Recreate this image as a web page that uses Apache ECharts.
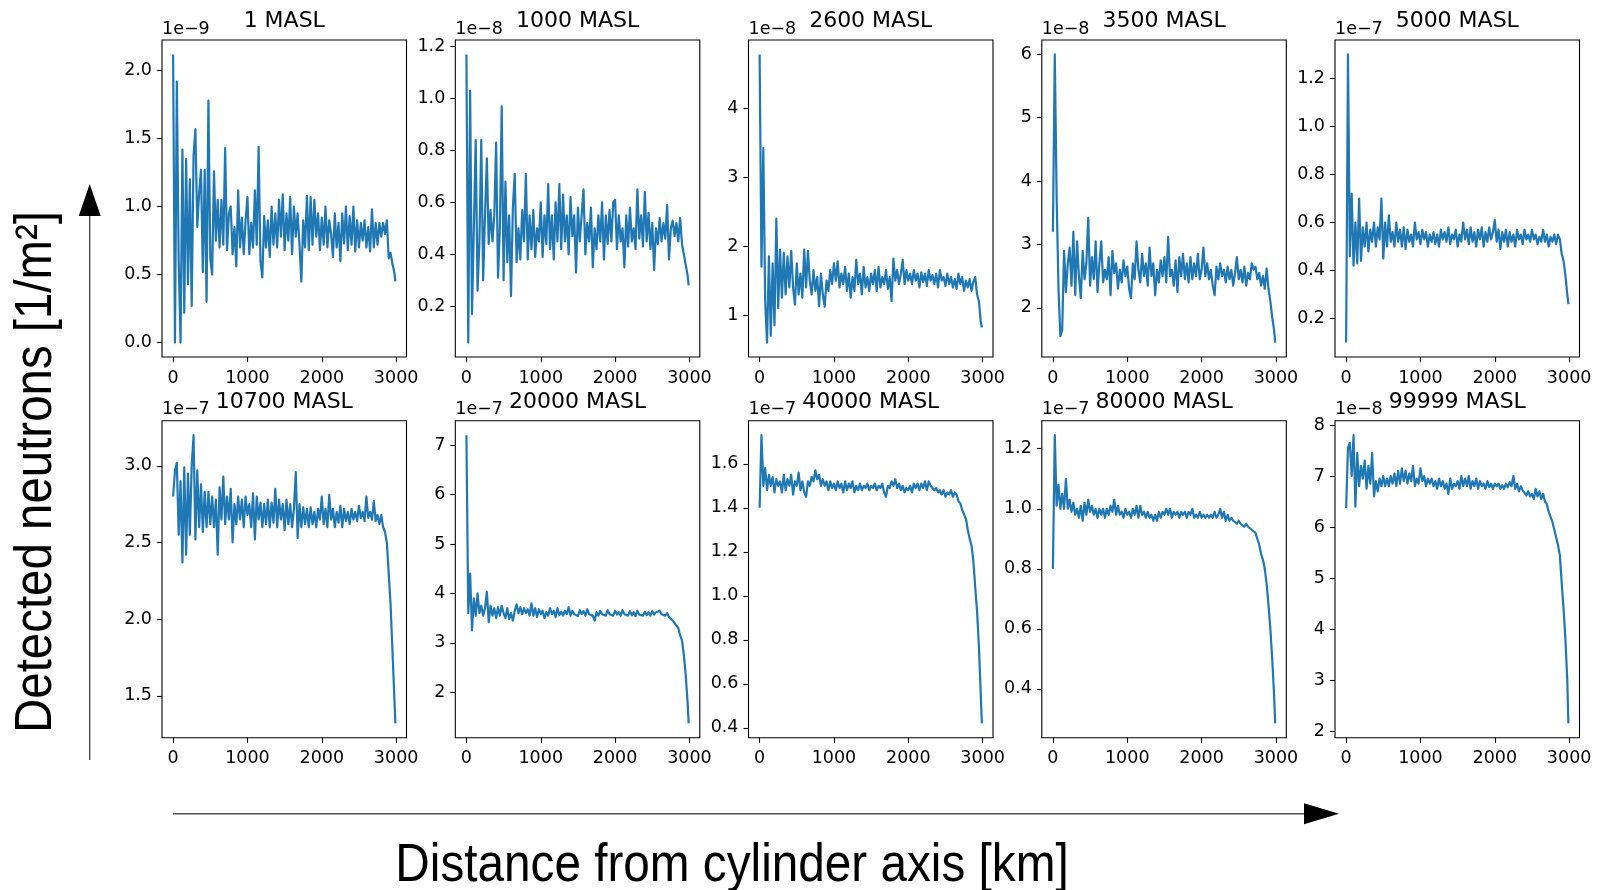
<!DOCTYPE html>
<html><head><meta charset="utf-8">
<script src="https://cdn.jsdelivr.net/npm/echarts@6/dist/echarts.min.js"></script>
<style>html,body{margin:0;padding:0;background:#fff}#c{width:1599px;height:890px}</style>
</head><body><div id="c"></div>
<script>
// ---------------- DATA ----------------
const distanceKm = [
 0,25,50,75,100,125,150,175,200,225,
 250,275,300,325,350,375,400,425,450,475,
 500,525,550,575,600,625,650,675,700,725,
 750,775,800,825,850,875,900,925,950,975,
 1000,1025,1050,1075,1100,1125,1150,1175,1200,1225,
 1250,1275,1300,1325,1350,1375,1400,1425,1450,1475,
 1500,1525,1550,1575,1600,1625,1650,1675,1700,1725,
 1750,1775,1800,1825,1850,1875,1900,1925,1950,1975,
 2000,2025,2050,2075,2100,2125,2150,2175,2200,2225,
 2250,2275,2300,2325,2350,2375,2400,2425,2450,2475,
 2500,2525,2550,2575,2600,2625,2650,2675,2700,2725,
 2750,2775,2800,2825,2850,2875,2900,2925,2950,2975,
 2990];

const masl1 = [
 2.12,0.0,1.92,0.6,0.0,1.42,0.22,1.35,0.43,1.2,
 0.27,1.38,1.57,0.85,1.1,1.27,0.52,1.27,0.3,1.78,
 0.62,0.5,1.26,0.75,1.05,0.7,1.05,0.72,1.43,0.68,
 0.95,1.0,0.65,0.85,0.56,1.12,0.7,0.92,0.65,0.9,
 1.07,0.65,0.88,0.7,1.12,0.72,1.44,0.6,0.48,0.93,
 0.7,0.9,0.63,1.0,0.72,0.95,0.7,1.05,0.78,1.09,
 0.68,0.95,0.75,1.07,0.65,1.0,0.78,0.95,0.72,0.45,
 0.9,0.7,1.08,0.68,1.07,0.72,1.05,0.78,0.95,0.68,
 0.92,0.72,1.0,0.7,0.9,0.8,0.63,0.95,0.7,0.88,
 0.6,0.95,0.73,1.0,0.68,0.93,0.72,1.0,0.67,0.9,
 0.7,0.88,0.75,0.9,0.7,0.85,0.67,0.98,0.7,0.88,
 0.72,0.88,0.78,0.88,0.8,0.9,0.62,0.66,0.58,0.52,
 0.45];

const masl1000 = [
 1.17,0.06,1.03,0.17,0.5,0.84,0.26,0.45,0.84,0.3,
 0.55,0.77,0.44,0.57,0.45,0.55,0.83,0.31,0.5,0.97,
 0.3,0.68,0.37,0.55,0.24,0.58,0.71,0.37,0.5,0.38,
 0.57,0.45,0.71,0.38,0.55,0.42,0.57,0.39,0.5,0.45,
 0.6,0.39,0.55,0.44,0.67,0.42,0.55,0.38,0.6,0.45,
 0.67,0.42,0.63,0.45,0.55,0.4,0.62,0.47,0.55,0.33,
 0.58,0.45,0.55,0.65,0.4,0.52,0.45,0.58,0.35,0.5,
 0.42,0.55,0.45,0.6,0.38,0.55,0.44,0.57,0.45,0.6,
 0.61,0.42,0.55,0.45,0.5,0.35,0.55,0.43,0.58,0.45,
 0.5,0.42,0.65,0.46,0.55,0.43,0.64,0.45,0.56,0.42,
 0.52,0.34,0.5,0.44,0.54,0.45,0.52,0.46,0.59,0.38,
 0.5,0.53,0.47,0.52,0.45,0.54,0.44,0.44,0.36,0.32,
 0.28];

const masl2600 = [
 4.78,1.7,3.42,1.2,0.6,1.85,0.7,1.75,0.85,2.4,
 1.1,1.95,1.25,1.9,1.3,1.85,1.4,1.93,1.4,1.15,
 1.75,1.3,1.6,1.25,1.95,1.4,1.93,1.5,1.3,1.65,
 1.35,1.55,1.13,1.6,1.3,1.12,1.5,1.35,1.65,1.45,
 1.75,1.5,1.78,1.4,1.6,1.45,1.7,1.35,1.6,1.25,
 1.55,1.35,1.8,1.45,1.6,1.3,1.7,1.4,1.55,1.35,
 1.6,1.45,1.65,1.35,1.7,1.4,1.55,1.45,1.65,1.38,
 1.55,1.2,1.82,1.5,1.65,1.45,1.6,1.8,1.45,1.65,
 1.5,1.6,1.45,1.65,1.5,1.6,1.4,1.62,1.48,1.6,
 1.42,1.65,1.5,1.58,1.45,1.6,1.4,1.65,1.5,1.55,
 1.42,1.6,1.45,1.55,1.4,1.52,1.38,1.6,1.45,1.55,
 1.35,1.5,1.4,1.52,1.35,1.48,1.55,1.3,1.2,0.9,
 0.82];

const masl3500 = [
 3.2,6.0,3.75,2.3,1.55,1.65,2.9,2.25,2.7,2.95,
 2.35,3.2,2.2,3.05,2.5,2.15,2.9,2.45,2.7,3.42,
 2.35,2.8,2.45,3.05,2.25,2.7,3.05,2.4,2.6,2.45,
 2.8,2.2,2.9,2.55,2.7,2.3,2.6,2.4,2.75,2.5,
 2.65,2.3,2.15,2.7,2.45,3.05,2.6,2.4,2.85,2.5,
 2.7,2.35,2.95,2.5,2.7,2.2,2.6,2.4,2.75,2.5,
 2.8,2.4,3.12,2.5,2.6,2.35,2.75,2.25,2.8,2.5,
 2.85,2.45,2.7,2.4,2.8,2.45,2.7,2.5,2.85,2.45,
 2.6,2.95,2.5,2.7,2.45,2.6,2.35,2.2,2.65,2.45,
 2.7,2.5,2.6,2.4,2.65,2.45,2.6,2.35,2.55,2.8,
 2.45,2.6,2.4,2.65,2.35,2.55,2.45,2.7,2.6,2.65,
 2.45,2.55,2.35,2.5,2.3,2.62,2.3,2.1,1.85,1.65,
 1.45];

const masl5000 = [
 0.1,1.30,0.46,0.72,0.42,0.6,0.43,0.7,0.44,0.58,
 0.5,0.6,0.48,0.57,0.52,0.6,0.5,0.58,0.53,0.7,
 0.45,0.6,0.5,0.63,0.52,0.56,0.5,0.6,0.52,0.57,
 0.5,0.58,0.49,0.57,0.52,0.55,0.5,0.6,0.53,0.56,
 0.51,0.57,0.53,0.56,0.5,0.55,0.52,0.56,0.51,0.55,
 0.5,0.57,0.53,0.56,0.52,0.58,0.51,0.55,0.53,0.57,
 0.5,0.55,0.52,0.6,0.53,0.57,0.51,0.58,0.52,0.56,
 0.5,0.57,0.53,0.58,0.5,0.56,0.52,0.58,0.53,0.56,
 0.61,0.52,0.57,0.49,0.56,0.52,0.57,0.5,0.56,0.52,
 0.55,0.5,0.57,0.53,0.55,0.51,0.57,0.53,0.55,0.52,
 0.57,0.53,0.55,0.51,0.54,0.52,0.57,0.52,0.55,0.5,
 0.54,0.52,0.55,0.51,0.55,0.53,0.47,0.44,0.38,0.3,
 0.26];

const masl10700 = [
 2.8,2.97,3.02,2.55,2.9,2.37,2.99,2.42,2.95,2.55,
 3.0,3.2,2.52,2.97,2.6,2.88,2.57,2.83,2.6,2.83,
 2.62,2.8,2.6,2.78,2.42,2.86,2.65,2.93,2.62,2.8,
 2.65,2.85,2.5,2.75,2.62,2.8,2.65,2.78,2.6,2.8,
 2.68,2.75,2.6,2.82,2.52,2.8,2.65,2.76,2.6,2.75,
 2.62,2.78,2.6,2.76,2.63,2.85,2.6,2.78,2.65,2.75,
 2.58,2.78,2.62,2.75,2.6,2.72,2.96,2.53,2.75,2.6,
 2.73,2.62,2.72,2.6,2.73,2.62,2.7,2.6,2.72,2.65,
 2.8,2.62,2.72,2.6,2.81,2.65,2.72,2.6,2.7,2.63,
 2.74,2.6,2.72,2.64,2.7,2.62,2.72,2.65,2.7,2.64,
 2.74,2.66,2.7,2.64,2.8,2.66,2.7,2.65,2.77,2.64,
 2.68,2.62,2.68,2.6,2.57,2.5,2.3,2.1,1.8,1.5,
 1.32];

const masl20000 = [
 7.2,3.6,4.4,3.25,3.9,3.55,4.0,3.6,3.75,3.55,
 3.7,4.03,3.42,3.75,3.55,3.7,3.5,3.72,3.55,3.75,
 3.6,3.5,3.7,3.48,3.6,3.45,3.65,3.78,3.6,3.72,
 3.58,3.7,3.6,3.68,3.55,3.8,3.55,3.7,3.52,3.68,
 3.58,3.65,3.5,3.62,3.55,3.7,3.58,3.65,3.52,3.7,
 3.56,3.63,3.55,3.65,3.58,3.72,3.55,3.65,3.58,3.62,
 3.54,3.66,3.58,3.64,3.55,3.68,3.58,3.62,3.55,3.45,
 3.62,3.55,3.65,3.58,3.62,3.55,3.66,3.58,3.62,3.55,
 3.65,3.57,3.62,3.55,3.66,3.58,3.62,3.55,3.64,3.56,
 3.62,3.54,3.65,3.57,3.6,3.55,3.63,3.56,3.62,3.55,
 3.64,3.57,3.62,3.58,3.65,3.58,3.62,3.55,3.6,3.52,
 3.48,3.45,3.42,3.35,3.3,3.15,3.05,2.75,2.35,1.8,
 1.37];

const masl40000 = [
 1.4,1.73,1.5,1.58,1.48,1.55,1.5,1.54,1.47,1.53,
 1.5,1.52,1.47,1.55,1.48,1.53,1.5,1.55,1.46,1.52,
 1.5,1.56,1.48,1.52,1.47,1.45,1.52,1.5,1.54,1.52,
 1.57,1.53,1.55,1.5,1.53,1.5,1.52,1.48,1.52,1.49,
 1.51,1.48,1.52,1.49,1.51,1.47,1.52,1.48,1.51,1.49,
 1.52,1.47,1.5,1.48,1.51,1.48,1.5,1.49,1.51,1.48,
 1.5,1.49,1.51,1.48,1.5,1.49,1.51,1.47,1.45,1.5,
 1.49,1.52,1.5,1.53,1.49,1.51,1.48,1.5,1.47,1.49,
 1.48,1.5,1.47,1.51,1.49,1.51,1.48,1.51,1.49,1.52,
 1.48,1.52,1.5,1.49,1.48,1.49,1.47,1.48,1.46,1.48,
 1.45,1.47,1.46,1.48,1.45,1.47,1.46,1.43,1.42,1.39,
 1.37,1.35,1.3,1.26,1.23,1.16,1.04,0.93,0.77,0.55,
 0.42];

const masl80000 = [
 0.8,1.245,1.01,1.08,1.0,1.05,1.0,1.1,1.0,1.03,
 0.99,1.02,0.98,1.0,0.97,1.01,0.96,1.02,0.98,1.03,
 0.99,1.01,0.98,1.0,0.97,1.0,0.98,1.0,0.97,1.0,
 0.98,1.01,0.99,1.03,0.98,1.01,0.98,0.99,0.97,1.0,
 0.98,0.99,0.97,1.0,0.98,1.01,0.97,1.01,0.98,0.99,
 0.97,0.99,0.97,0.98,0.96,0.98,0.96,0.99,0.97,0.99,
 0.98,1.0,0.98,1.0,0.97,0.99,0.98,0.99,0.97,0.99,
 0.98,0.99,0.97,0.99,0.98,1.0,0.97,0.98,0.97,0.99,
 0.97,0.98,0.97,0.98,0.97,0.98,0.97,0.99,0.97,0.98,
 1.0,0.97,0.99,0.96,0.98,0.96,0.97,0.96,0.96,0.95,
 0.96,0.95,0.95,0.94,0.95,0.94,0.94,0.93,0.93,0.92,
 0.9,0.88,0.85,0.83,0.8,0.75,0.68,0.6,0.5,0.38,
 0.285];

const masl99999 = [
 6.37,7.55,7.65,7.0,7.8,6.4,7.45,6.8,7.2,6.95,
 7.3,6.75,7.2,6.85,7.45,6.6,6.9,6.7,6.95,6.8,
 7.0,6.8,6.95,6.8,7.0,6.85,7.05,6.8,7.1,6.85,
 7.15,6.9,7.1,6.85,7.05,6.9,7.2,6.8,6.95,6.85,
 7.15,6.9,7.0,6.8,6.95,6.85,6.95,6.8,6.9,6.75,
 6.95,6.8,6.9,6.75,6.85,6.65,6.95,6.75,6.85,6.8,
 6.9,6.75,7.0,6.8,6.95,6.8,7.0,6.75,6.9,6.8,
 6.95,6.75,6.9,6.8,6.85,6.75,6.9,6.78,6.85,6.75,
 6.85,6.8,6.85,6.75,6.82,6.75,6.85,6.78,6.88,6.8,
 7.0,6.75,6.85,6.7,6.8,6.72,6.75,6.62,6.7,6.6,
 6.65,6.55,6.75,6.6,6.7,6.55,6.65,6.5,6.45,6.3,
 6.2,6.1,5.95,5.8,5.65,5.45,4.9,4.4,3.8,3.0,
 2.15];

const panelTitles = ['1 MASL','1000 MASL','2600 MASL','3500 MASL','5000 MASL',
                     '10700 MASL','20000 MASL','40000 MASL','80000 MASL','99999 MASL'];
const offsetTexts = ['1e\u22129','1e\u22128','1e\u22128','1e\u22128','1e\u22127',
                     '1e\u22127','1e\u22127','1e\u22127','1e\u22127','1e\u22128'];
const yTicks = [
 [0,0.5,1,1.5,2],
 [0.2,0.4,0.6,0.8,1.0,1.2],
 [1,2,3,4],
 [2,3,4,5,6],
 [0.2,0.4,0.6,0.8,1.0,1.2],
 [1.5,2.0,2.5,3.0],
 [2,3,4,5,6,7],
 [0.4,0.6,0.8,1.0,1.2,1.4,1.6],
 [0.4,0.6,0.8,1.0,1.2],
 [2,3,4,5,6,7,8]];
const yDecimals = [1,1,0,0,1,1,0,1,1,0];
const xTicks = [0,1000,2000,3000];
const seriesValues = [masl1,masl1000,masl2600,masl3500,masl5000,
                      masl10700,masl20000,masl40000,masl80000,masl99999];

// ---------------- LAYOUT ----------------
const colLefts = [162,455.3,748.5,1041.8,1335];
const rowTops = [40,420.8];
const boxW = 244.5, boxH = 317;
const tickFont = 'DejaVu Sans';
const ink = '#000';

function padded(lo, hi){ const m=(hi-lo)*0.05; return [lo-m, hi+m]; }

const grids=[], xAxes=[], yAxes=[], series=[], graphics=[];
const xr = padded(Math.min(...distanceKm), Math.max(...distanceKm));
seriesValues.forEach((vals,i)=>{
  const r = Math.floor(i/5), c = i%5;
  const left = colLefts[c], top = rowTops[r];
  grids.push({left:left, top:top, width:boxW, height:boxH, show:true,
    borderColor:ink, borderWidth:1.1, backgroundColor:'transparent'});
  const yr = padded(Math.min(...vals), Math.max(...vals));
  const dec = yDecimals[i];
  xAxes.push({type:'value', gridIndex:i, min:xr[0], max:xr[1],
    axisLine:{show:false,onZero:false}, splitLine:{show:false},
    axisTick:{show:true, inside:false, length:5, customValues:xTicks, lineStyle:{color:ink,width:1.1}},
    axisLabel:{customValues:xTicks, fontFamily:tickFont, fontSize:17.5, color:ink, margin:12,
      formatter:v=>String(Math.round(v))}});
  yAxes.push({type:'value', gridIndex:i, min:yr[0], max:yr[1],
    axisLine:{show:false,onZero:false}, splitLine:{show:false},
    axisTick:{show:true, inside:false, length:5, customValues:yTicks[i], lineStyle:{color:ink,width:1.1}},
    axisLabel:{customValues:yTicks[i], fontFamily:tickFont, fontSize:17.5, color:ink, margin:10,
      formatter:v=>Number(v).toFixed(dec)}});
  series.push({type:'line', xAxisIndex:i, yAxisIndex:i, showSymbol:false, symbol:'none',
    silent:true, animation:false,
    lineStyle:{color:'#1f77b4', width:2.2, join:'round'},
    data: distanceKm.map((x,j)=>[x, vals[j]])});
  graphics.push({type:'text', x:left+boxW/2, y:top-18.5, silent:true,
    style:{text:panelTitles[i], fontFamily:tickFont, fontSize:22, fill:ink, align:'center', verticalAlign:'middle'}});
  graphics.push({type:'text', x:left, y:top-11, silent:true,
    style:{text:offsetTexts[i], fontFamily:tickFont, fontSize:17.5, fill:ink, align:'left', verticalAlign:'middle'}});
});

// axis arrows and big labels
graphics.push({type:'line', silent:true, shape:{x1:89.7,y1:760,x2:89.7,y2:210}, style:{stroke:'#555',lineWidth:1.5}});
graphics.push({type:'polygon', silent:true, shape:{points:[[89.7,184],[78.7,216],[100.7,216]]}, style:{fill:'#000'}});
graphics.push({type:'line', silent:true, shape:{x1:173,y1:813.8,x2:1308,y2:813.8}, style:{stroke:'#555',lineWidth:1.5}});
graphics.push({type:'polygon', silent:true, shape:{points:[[1339,813.8],[1304,803.3],[1304,824.3]]}, style:{fill:'#000'}});
graphics.push({type:'text', x:732, y:866, scaleX:0.9, silent:true,
  style:{text:'Distance from cylinder axis [km]', fontFamily:'Liberation Sans', fontSize:53, fill:'#000', align:'center', verticalAlign:'middle'}});
graphics.push({type:'text', x:37, y:472, rotation:Math.PI/2, scaleX:0.93, silent:true,
  style:{text:'Detected neutrons [1/m\u00B2]', fontFamily:'Liberation Sans', fontSize:51, fill:'#000', align:'center', verticalAlign:'middle'}});

const chart = echarts.init(document.getElementById('c'), null, {renderer:'canvas'});
chart.setOption({animation:false, backgroundColor:'#fff',
  grid:grids, xAxis:xAxes, yAxis:yAxes, series:series, graphic:graphics});
</script></body></html>
